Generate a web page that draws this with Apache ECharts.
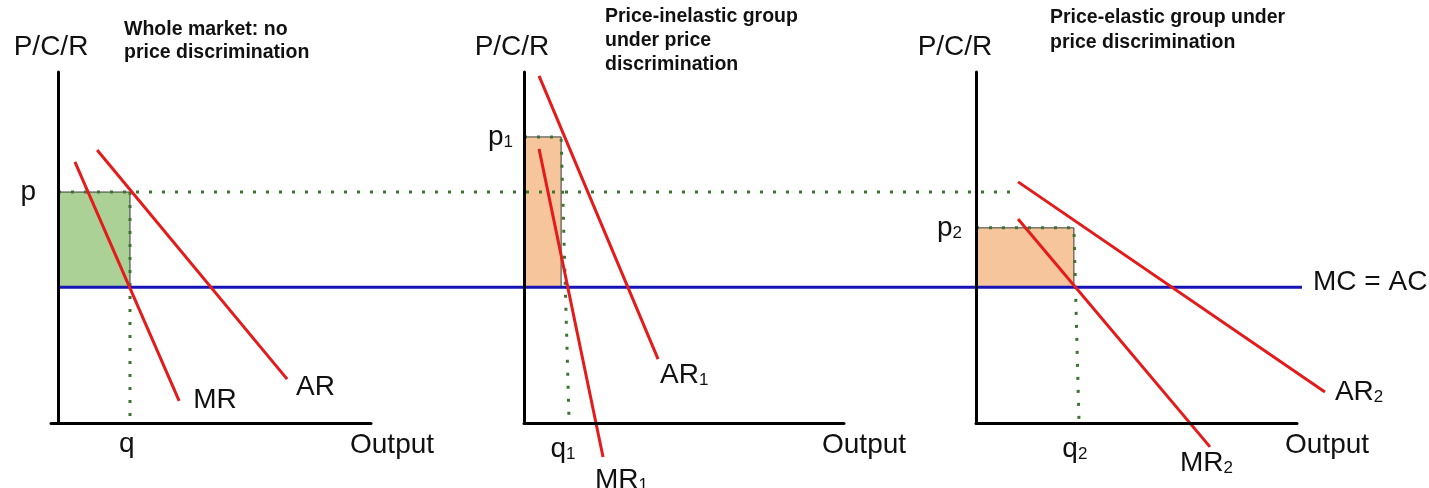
<!DOCTYPE html>
<html>
<head>
<meta charset="utf-8">
<script src="https://cdn.jsdelivr.net/npm/echarts@6/dist/echarts.min.js"></script>
<style>
  html, body { margin: 0; padding: 0; background: #ffffff; }
  #chart { width: 1429px; height: 488px; }
</style>
</head>
<body>
<div id="chart"></div>
<script>
// ---------- data (price axis 0..100, output axis 0..100 per panel) ----------
const panelTitles = [
  'Whole market: no\nprice discrimination',
  'Price-inelastic group\nunder price\ndiscrimination',
  'Price-elastic group under\nprice discrimination'
];
const yAxisName = 'P/C/R';
const xAxisName = 'Output';
const mcLevel = 38.7;                       // MC = AC (common to all markets)
const priceLevels = [65.8, 81.5, 55.6];     // p, p1, p2
const priceLabels = ['p', 'p1', 'p2'];
const quantityTicks = [22, 12.2, 30.8];     // q, q1, q2 label positions
const quantityLabels = ['q', 'q1', 'q2'];
const quantityTop = [23, 11.6, 30.5];       // x of q at price level
const quantityBottom = [23, 14.1, 32.1];    // x of q at output axis
const arLines = [
  [[12.5, 77.8], [73.2, 12.5]],
  [[4.7, 98.9], [41.9, 18.2]],
  [[13.1, 68.7], [108.7, 8.8]]
];
const mrLines = [
  [[5.4, 74.4], [38.7, 6.3]],
  [[4.7, 78.1], [24.7, -9.7]],
  [[13.1, 58.1], [72.9, -6.8]]
];
const arLabels = ['AR', 'AR1', 'AR2'];
const mrLabels = ['MR', 'MR1', 'MR2'];
// shared lines across the three panels (0 = first price axis, 100 = end of MC line)
const sharedMC = [[0, mcLevel], [100, mcLevel]];
const sharedPriceLine = [[0, 65.8], [77.3, 65.8]];
const mcLabel = 'MC = AC';

// ---------- layout / style ----------
const FONT = '"Liberation Sans", Arial, sans-serif';
const RED = '#e31b1b', BLUE = '#1616b8', DOT = '#3f7336';
const FILLS = ['#acd196', '#f7c59b', '#f7c59b'];
const grids = [
  { left: 51, top: 72, width: 320, height: 351 },
  { left: 524, top: 72, width: 320, height: 351 },
  { left: 976, top: 72, width: 321, height: 351 },
  { left: 58, top: 72, width: 1244, height: 351 },   // shared overlay
  { left: 976, top: 72, width: 453, height: 351 }    // panel-3 curves (same scale, room to run past the axis end)
];
const panel3ExtMax = 100 * 453 / 321;
const xMins = [-2.24, 0, 0];
const nameShift = [14, 24, 42];
const nameGapX = [-21, -22, -12];
const pMargin = [15, 11, 14];
const qMargin = [6, 11, 11];
const arOffsets = [[1, 8], [-6, 16], [2, 0]];
const mrOffsets = [[6, -1], [-16, 23], [-38, 16]];
const titlePos = [{ left: 124, top: 18, lh: 23 }, { left: 605, top: 5, lh: 24 }, { left: 1050, top: 5, lh: 25 }];

const rich = {
  m: { fontSize: 28, fontFamily: FONT, color: '#111', lineHeight: 30 },
  s: { fontSize: 17, fontFamily: FONT, color: '#111', verticalAlign: 'bottom', lineHeight: 30, padding: [0, 0, 1, 0] }
};
function sub(t) {
  const m = t.match(/^(.*?)(\d)$/);
  return m ? '{m|' + m[1] + '}{s|' + m[2] + '}' : '{m|' + t + '}';
}

const xAxes = [], yAxes = [], series = [];
for (let i = 0; i < 3; i++) {
  xAxes.push({
    gridIndex: i, type: 'value', min: xMins[i], max: 100, z: 10,
    axisLine: { show: true, onZero: true, lineStyle: { color: '#000', width: 3 } },
    axisTick: { show: false }, splitLine: { show: false },
    axisLabel: {
      show: true, customValues: [quantityTicks[i]], margin: qMargin[i],
      formatter: () => sub(quantityLabels[i]), rich: rich
    },
    name: xAxisName, nameLocation: 'end', nameGap: nameGapX[i], nameMoveOverlap: false,
    nameTextStyle: { fontSize: 28, fontFamily: FONT, color: '#111', verticalAlign: 'top', align: 'left', padding: [8, 0, 0, 0] }
  });
  yAxes.push({
    gridIndex: i, type: 'value', min: 0, max: 100, z: 10,
    axisLine: { show: true, onZero: true, lineStyle: { color: '#000', width: 3 } },
    axisTick: { show: false }, splitLine: { show: false },
    axisLabel: {
      show: true, customValues: [priceLevels[i]], margin: pMargin[i],
      formatter: () => sub(priceLabels[i]), rich: rich
    },
    name: yAxisName, nameLocation: 'end', nameGap: 11, nameMoveOverlap: false,
    nameTextStyle: { fontSize: 28, fontFamily: FONT, color: '#111', padding: [0, nameShift[i], 0, 0] }
  });
}
// hidden axes: shared overlay (3) and panel-3 curve space (4)
xAxes.push({ gridIndex: 3, type: 'value', min: 0, max: 100, show: false });
yAxes.push({ gridIndex: 3, type: 'value', min: 0, max: 100, show: false });
xAxes.push({ gridIndex: 4, type: 'value', min: 0, max: panel3ExtMax, show: false });
yAxes.push({ gridIndex: 4, type: 'value', min: 0, max: 100, show: false });

for (let i = 0; i < 3; i++) {
  const curveAxis = i === 2 ? 4 : i;
  series.push({
    type: 'custom', xAxisIndex: i, yAxisIndex: i, z: 1, silent: true,
    encode: { x: [0, 2], y: [1, 3] },
    data: [[0, mcLevel, quantityTop[i], priceLevels[i]]],
    renderItem: (params, api) => {
      const a = api.coord([api.value(0), api.value(3)]);
      const b = api.coord([api.value(2), api.value(1)]);
      return {
        type: 'rect',
        shape: { x: a[0], y: a[1], width: b[0] - a[0], height: b[1] - a[1] },
        style: { fill: FILLS[i], stroke: '#3a3a3a', lineWidth: 1 }
      };
    }
  });
  const dotted = i === 0
    ? [[quantityTop[i], priceLevels[i]], [quantityBottom[i], 0]]
    : [[0, priceLevels[i]], [quantityTop[i], priceLevels[i]], [quantityBottom[i], 0]];
  series.push({
    type: 'line', xAxisIndex: i, yAxisIndex: i, z: 3, silent: true, clip: false,
    symbol: 'none', data: dotted,
    lineStyle: { color: DOT, width: 3, type: [3, 10], cap: 'butt' }
  });
  series.push({
    type: 'line', xAxisIndex: curveAxis, yAxisIndex: curveAxis, z: 5, silent: true, clip: false,
    symbol: 'none', data: arLines[i],
    lineStyle: { color: RED, width: 3 },
    endLabel: { show: true, formatter: () => sub(arLabels[i]), rich: rich, offset: arOffsets[i] }
  });
  series.push({
    type: 'line', xAxisIndex: curveAxis, yAxisIndex: curveAxis, z: 5, silent: true, clip: false,
    symbol: 'none', data: mrLines[i],
    lineStyle: { color: RED, width: 3 },
    endLabel: { show: true, formatter: () => sub(mrLabels[i]), rich: rich, offset: mrOffsets[i] }
  });
}
series.push({
  type: 'line', xAxisIndex: 3, yAxisIndex: 3, z: 3, silent: true, clip: false,
  symbol: 'none', data: sharedPriceLine,
  lineStyle: { color: DOT, width: 3, type: [3, 10], cap: 'butt' }
});
series.push({
  type: 'line', xAxisIndex: 3, yAxisIndex: 3, z: 4, silent: true, clip: false,
  symbol: 'none', data: sharedMC,
  lineStyle: { color: BLUE, width: 3 },
  endLabel: { show: true, formatter: () => sub(mcLabel), rich: rich, offset: [3, -5] }
});

const option = {
  animation: false,
  backgroundColor: '#ffffff',
  textStyle: { fontFamily: FONT },
  title: panelTitles.map((t, i) => ({
    text: t, left: titlePos[i].left, top: titlePos[i].top, padding: 0,
    textStyle: { fontSize: 19.5, fontWeight: 'bold', fontFamily: FONT, color: '#111', lineHeight: titlePos[i].lh }
  })),
  grid: grids.map(g => Object.assign({ containLabel: false, outerBoundsMode: 'none' }, g)),
  xAxis: xAxes,
  yAxis: yAxes,
  series: series
};
const chart = echarts.init(document.getElementById('chart'), null, { renderer: 'canvas' });
chart.setOption(option);
</script>
</body>
</html>
